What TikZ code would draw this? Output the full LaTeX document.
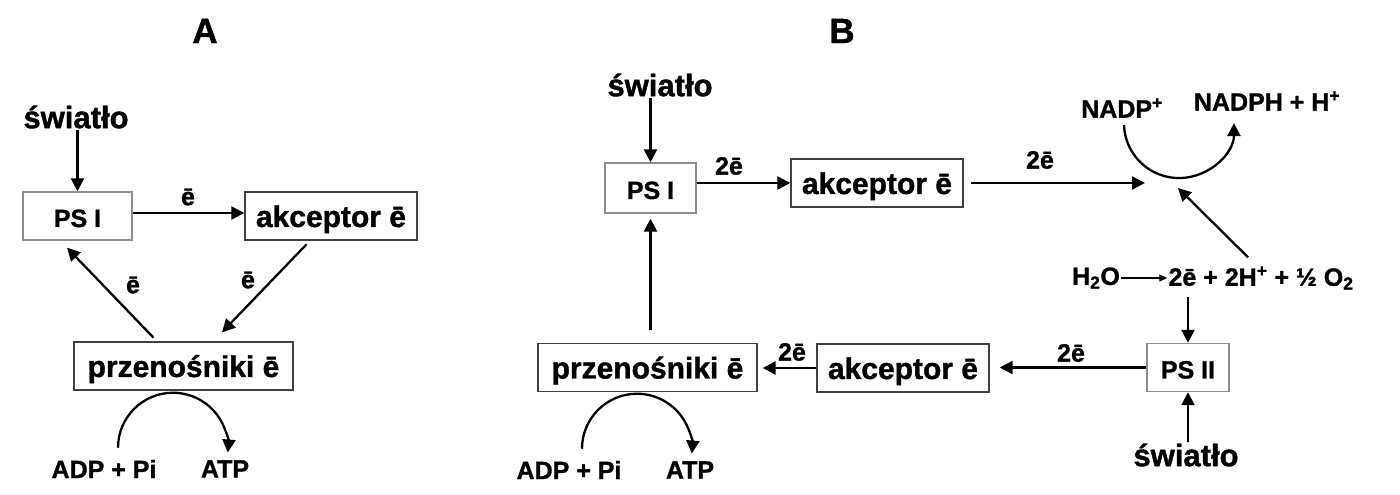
\documentclass[tikz,border=0pt]{standalone}
\usepackage{fontspec}
\setmainfont{Liberation Sans}[BoldFeatures={FakeBold=1.2}]
\usetikzlibrary{arrows.meta}

\begin{document}
\begin{tikzpicture}[x=1pt,y=1pt,
  box/.style={draw=black!75,line width=1.4pt,minimum height=48pt,inner sep=0pt,text height=24pt,text depth=2pt,font=\fontsize{30}{30}\selectfont\bfseries},
  psbox/.style={box,draw=black!45,text height=22pt,text depth=0pt,font=\fontsize{25}{25}\selectfont\bfseries},
  txt/.style={inner sep=1pt,font=\fontsize{25}{25}\selectfont\bfseries},
  light/.style={inner sep=1pt,font=\fontsize{31}{31}\selectfont\bfseries},
  title/.style={inner sep=0pt,font=\fontsize{35}{35}\selectfont\bfseries},
  elbl/.style={inner sep=0pt,font=\fontsize{25}{25}\selectfont\bfseries},
  arr/.style={-{Triangle[length=13pt,width=13pt]},line width=2.3pt},
  thinarr/.style={-{Triangle[length=8pt,width=7pt]},line width=1.3pt}]
\useasboundingbox (0,0) rectangle (1400,495);

% A: cyclic
\node[title] (titleA) at (205,464) {A};
\node[light] (lightA) at (76,378) {światło};
\node[psbox,minimum width=109pt] (psA) at (77.5,279) {PS I};
\node[box,minimum width=172pt] (accA) at (331,279) {akceptor ē};
\node[box,minimum width=219pt] (carA) at (183.5,129) {przenośniki ē};
\node[txt] (adpA) at (104,26) {ADP + Pi};
\node[txt] (atpA) at (225,26) {ATP};

\draw[arr] (psA.north |- lightA.south) -- (psA.north);
\draw[arr] ([yshift=3pt]psA.east) -- ([yshift=3pt]accA.west);
\node[elbl] (eA1) at (188,298) {ē};
\draw[arr,shorten <=5pt] ([xshift=-21pt]accA.south) -- ([xshift=38.5pt,yshift=9pt]carA.north);
\node[elbl] (eA2) at (248,215) {ē};
\draw[arr,shorten <=5pt] ([xshift=-26.5pt]carA.north) -- ([xshift=-10.5pt,yshift=-7pt]psA.south);
\node[elbl] (eA3) at (133,210) {ē};
\draw[arr] ([xshift=14pt,yshift=11pt]adpA.north) arc[start angle=180,end angle=-5,radius=55];

% B: noncyclic
\node[title] (titleB) at (842,464) {B};
\node[light] (lightB) at (660,410) {światło};
\node[psbox,minimum width=91pt,minimum height=50pt] (psB) at (650.5,307) {PS I};
\node[box,minimum width=172pt] (accB) at (877,312) {akceptor ē};
\node[txt] (nadp) at (1122,387) {NADP\textsuperscript{+}};
\node[txt] (nadph) at (1267,394) {NADPH + H\textsuperscript{+}};
\node[txt] (water) at (1096,217) {H\textsubscript{2}O};
\node[txt] (splitProd) at (1261,217) {2ē + 2H\textsuperscript{+} + ½ O\textsubscript{2}};
\node[psbox,minimum width=82pt] (psII) at (1188,127.5) {PS II};
\node[light] (lightC) at (1186,40) {światło};
\node[box,minimum width=172pt] (accC) at (903,127) {akceptor ē};
\node[box,minimum width=219pt] (carB) at (647.5,127.5) {przenośniki ē};
\node[txt] (adpB) at (569,25) {ADP + Pi};
\node[txt] (atpB) at (690,25) {ATP};

\coordinate (arcStart) at (1124,370);
\coordinate (arcLow) at (1179,317);

\draw[arr] (psB.north |- lightB.south) -- (psB.north);
\draw[arr] (psB.east |- accB.west) -- (accB.west);
\node[elbl] (eB1) at (729,329) {2ē};
\draw[arr,shorten <=7pt] (accB.east) -- ([xshift=-34pt,yshift=-5pt]arcLow);
\node[elbl] (eB2) at (1040,335) {2ē};
\draw[arr] (arcStart) arc[start angle=182,end angle=360,radius=55];
\draw[thinarr] (water) -- (splitProd);
\draw[arr] ([xshift=-13pt,yshift=8pt]splitProd.north) -- ([xshift=-1pt,yshift=-10pt]arcLow);
\draw[arr,shorten <=6pt] (psII.north |- splitProd.south) -- (psII.north);
\draw[arr] (lightC.north -| psII.south) -- (psII.south);
\draw[arr,shorten >=10pt] (psII.west) -- (psII.west -| accC.east);
\node[elbl] (eB3) at (1071,142) {2ē};
\draw[arr,shorten >=5pt] (accC.west) -- (accC.west -| carB.east);
\node[elbl] (eB4) at (792,143) {2ē};
\draw[arr,shorten <=13pt,shorten >=5pt] (psB.south |- carB.north) -- (psB.south);
\draw[arr] ([xshift=13pt,yshift=11pt]adpB.north) arc[start angle=180,end angle=-5,radius=55];

\end{tikzpicture}
\end{document}
